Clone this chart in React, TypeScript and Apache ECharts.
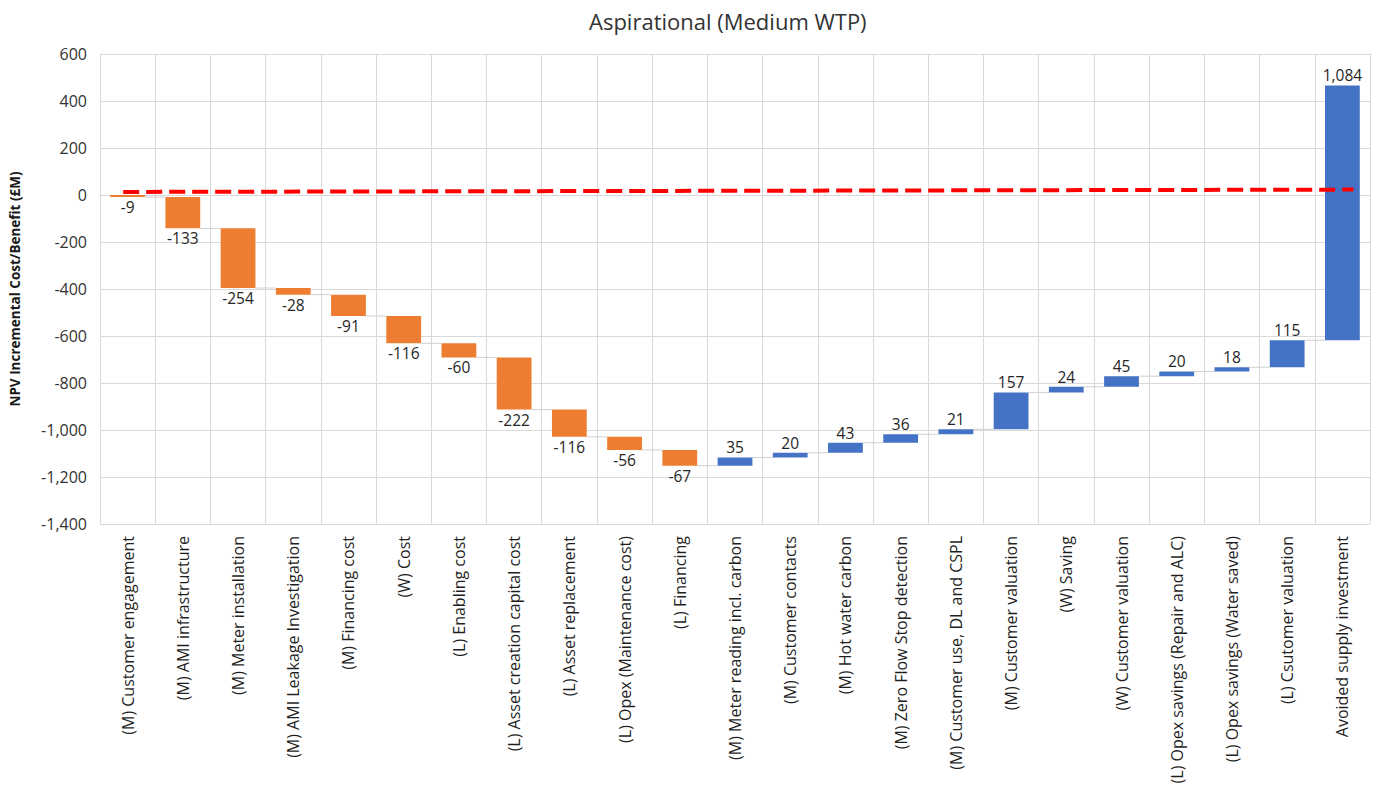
import React, { useEffect, useRef } from "react";
import * as echarts from "echarts";

const categories = [
  "(M) Customer engagement",
  "(M) AMI infrastructure",
  "(M) Meter installation",
  "(M) AMI Leakage Investigation",
  "(M) Financing cost",
  "(W) Cost",
  "(L) Enabling cost",
  "(L) Asset creation capital cost",
  "(L) Asset replacement",
  "(L) Opex (Maintenance cost)",
  "(L) Financing",
  "(M) Meter reading incl. carbon",
  "(M) Customer contacts",
  "(M) Hot water carbon",
  "(M) Zero Flow Stop detection",
  "(M) Customer use, DL and CSPL",
  "(M) Customer valuation",
  "(W) Saving",
  "(W) Customer valuation",
  "(L) Opex savings (Repair and ALC)",
  "(L) Opex savings (Water saved)",
  "(L) Csutomer valuation",
  "Avoided supply investment",
];

const deltas = [-9, -133, -254, -28, -91, -116, -60, -222, -116, -56, -67, 35, 20, 43, 36, 21, 157, 24, 45, 20, 18, 115, 1084];

const breakEvenStart = 13;
const breakEvenEnd = 23;

const yTicks = { min: -1400, max: 600, interval: 200 };

const ORANGE = "#ED7D31";
const BLUE = "#4472C4";

function fmt(v: number): string {
  const s = Math.abs(v).toLocaleString("en-US");
  return v < 0 ? "-" + s : s;
}

export default function App() {
  const ref = useRef<HTMLDivElement>(null);
  useEffect(() => {
    document.body.style.margin = "0";
    if (!ref.current) return;
    const chart = echarts.init(ref.current, undefined, { renderer: "svg" });

    const barData: number[][] = [];
    const connData: number[][] = [];
    let cum = 0;
    deltas.forEach((d, i) => {
      const start = cum;
      cum += d;
      barData.push([i, start, cum, d]);
      if (i < deltas.length - 1) connData.push([i, cum]);
    });

    const font = "'Open Sans', 'Liberation Sans', sans-serif";

    chart.setOption({
      animation: false,
      backgroundColor: "#ffffff",
      title: {
        text: "Aspirational (Medium WTP)",
        left: 584,
        top: 5,
        textStyle: { fontFamily: font, fontSize: 22, fontWeight: "normal", color: "#333333" },
      },
      grid: { left: 97, right: 5, top: 54, bottom: 263 },
      xAxis: {
        type: "category",
        data: categories,
        boundaryGap: true,
        axisLine: { show: true, lineStyle: { color: "#d9d9d9" } },
        axisTick: { show: false },
        splitLine: { show: true, lineStyle: { color: "#d9d9d9", width: 1 } },
        axisLabel: {
          rotate: 90,
          interval: 0,
          margin: 12,
          fontFamily: font,
          fontSize: 16,
          color: "#1f1f1f",
        },
      },
      yAxis: {
        type: "value",
        min: yTicks.min,
        max: yTicks.max,
        interval: yTicks.interval,
        name: "NPV Incremental Cost/Benefit (£M)",
        nameLocation: "middle",
        nameGap: 78,
        nameTextStyle: { fontFamily: font, fontSize: 13.5, fontWeight: "bold", color: "#1a1a1a" },
        axisLine: { show: false },
        axisTick: { show: false },
        splitLine: { lineStyle: { color: "#d9d9d9", width: 1 } },
        axisLabel: {
          fontFamily: font,
          fontSize: 16,
          color: "#333333",
          margin: 13,
          formatter: (v: number) => fmt(v),
        },
      },
      series: [
        {
          type: "custom",
          name: "connectors",
          data: connData,
          encode: { x: 0, y: 1 },
          silent: true,
          z: 1,
          renderItem: (params: any, api: any) => {
            const i = api.value(0);
            const v = api.value(1);
            const w = api.size([1, 0])[0] * 0.63;
            const p1 = api.coord([i, v]);
            const p2 = api.coord([i + 1, v]);
            return {
              type: "line",
              shape: { x1: p1[0] + w / 2, y1: p1[1], x2: p2[0] - w / 2, y2: p2[1] },
              style: { stroke: "#d0d0d0", lineWidth: 1 },
            };
          },
        },
        {
          type: "custom",
          name: "waterfall",
          data: barData,
          encode: { x: 0, y: [1, 2] },
          z: 2,
          renderItem: (params: any, api: any) => {
            const i = api.value(0);
            const s = api.value(1);
            const e = api.value(2);
            const d = api.value(3);
            const w = api.size([1, 0])[0] * 0.63;
            const p1 = api.coord([i, s]);
            const p2 = api.coord([i, e]);
            const top = Math.min(p1[1], p2[1]);
            const bottom = Math.max(p1[1], p2[1]);
            const pos = d >= 0;
            return {
              type: "group",
              children: [
                {
                  type: "rect",
                  shape: { x: p1[0] - w / 2, y: top, width: w, height: Math.max(bottom - top, 1) },
                  style: { fill: pos ? BLUE : ORANGE },
                },
                {
                  type: "text",
                  x: p1[0],
                  y: pos ? top - 2 : bottom + 2,
                  style: {
                    text: fmt(d),
                    fontFamily: font,
                    fontSize: 15.5,
                    fill: "#262626",
                    align: "center",
                    verticalAlign: pos ? "bottom" : "top",
                  },
                },
              ],
            };
          },
        },
        {
          type: "custom",
          name: "break-even",
          data: [[0, breakEvenStart, deltas.length - 1, breakEvenEnd]],
          encode: { x: [0, 2], y: [1, 3] },
          silent: true,
          z: 3,
          renderItem: (params: any, api: any) => {
            const band = api.size([1, 0])[0];
            const p1 = api.coord([api.value(0), api.value(1)]);
            const p2 = api.coord([api.value(2), api.value(3)]);
            return {
              type: "line",
              shape: { x1: p1[0] - band * 0.08, y1: p1[1], x2: p2[0] + band * 0.2, y2: p2[1] },
              style: { stroke: "#FF0000", lineWidth: 4, lineDash: [16, 7] },
            };
          },
        },
      ],
    });
    return () => chart.dispose();
  }, []);
  return <div ref={ref} style={{ width: 1375, height: 787 }} />;
}
